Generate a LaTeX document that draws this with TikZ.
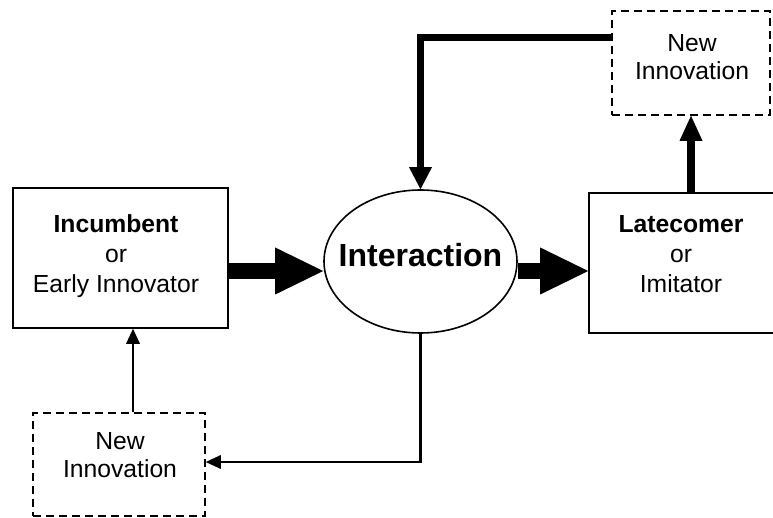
\documentclass[tikz,border=0pt]{standalone}
\usepackage{fontspec}
\setmainfont{Liberation Sans}
\usetikzlibrary{arrows.meta,shapes.geometric,calc}
\begin{document}
\begin{tikzpicture}[x=1pt,y=-1pt,
  txt/.style={font=\fontsize{24.7}{30}\selectfont, align=center, inner sep=0pt},
  dtxt/.style={font=\fontsize{24.7}{28}\selectfont, align=center, inner sep=0pt},
  sbox/.style={draw, line width=1.6pt, rectangle, inner sep=0pt},
  dbox/.style={draw, line width=1.6pt, dash pattern=on 8pt off 5pt, rectangle, inner sep=0pt},
  bigarr/.style={line width=16pt, -{Triangle[length=48pt,width=47pt,line width=0pt]}},
  medarr/.style={line width=7pt, -{Triangle[length=22pt,width=23pt,line width=0pt]}},
  uparr/.style={line width=8pt, -{Triangle[length=25pt,width=23pt,line width=0pt]}},
  thinarr/.style={line width=2.2pt, -{Triangle[length=15pt,width=14pt,line width=0pt]}},
]
\useasboundingbox (0,0) rectangle (773,518);
\clip (0,0) rectangle (773,518);

% boxes
\node[sbox, minimum width=215pt, minimum height=140pt] (inc) at (120.3,258) {};
\node[txt] (inctxt) at (116,256.5) {\textbf{Incumbent}\\or\\Early Innovator};

\node[ellipse, draw, line width=1.6pt, minimum width=193pt, minimum height=143pt, inner sep=0pt] (ell) at (420.5,261.5) {};
\node[font=\bfseries\fontsize{32}{36}\selectfont, inner sep=0pt] (elltxt) at (420.5,255.5) {Interaction};

\node[sbox, minimum width=201pt, minimum height=140pt] (late) at (689.5,263) {};
\node[txt] (latetxt) at (681,254) {\textbf{Latecomer}\\or\\Imitator};

\node[dbox, minimum width=158pt, minimum height=104pt] (nt) at (691,63) {};
\node[dtxt] (nttxt) at (692,57) {New\\Innovation};

\node[dbox, minimum width=172pt, minimum height=103pt] (nb) at (119,464.5) {};
\node[dtxt] (nbtxt) at (120,455) {New\\Innovation};

% connectors
\coordinate (ay) at (0,271);
\coordinate (ty) at (0,38);
\coordinate (bx) at (133,0);
\coordinate (by) at (0,462);

\draw[bigarr] (inc.east |- ay) -- (ell.west |- ay);
\draw[bigarr] (ell.east |- ay) -- (late.west |- ay);
\draw[medarr] (nt.west |- ty) -| (ell.north);
\draw[uparr] (late.north -| nt.south) -- (nt.south);
\draw[thinarr] (nb.north -| bx) -- (inc.south -| bx);
\draw[thinarr] (ell.south) -- (ell.south |- by) -- (nb.east |- by);
\end{tikzpicture}
\end{document}
